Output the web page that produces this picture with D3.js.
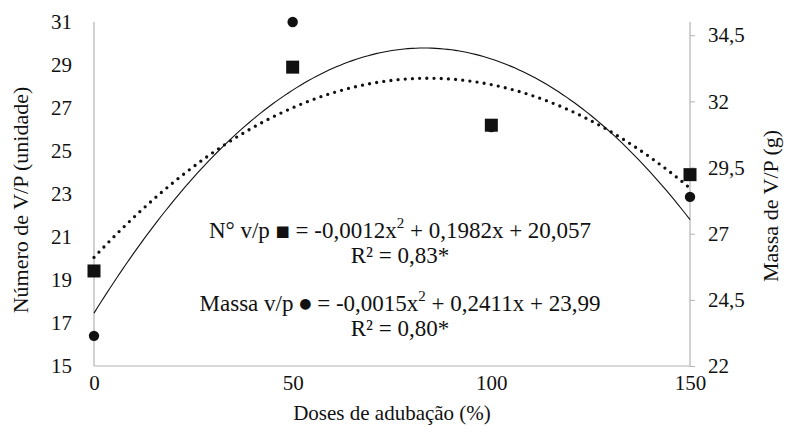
<!DOCTYPE html>
<html>
<head>
<meta charset="utf-8">
<script src="https://cdn.jsdelivr.net/npm/d3@7"></script>
<style>
  body { margin: 0; background: #fff; }
  text { font-family: "Liberation Serif", "Times New Roman", serif; fill: #111; }
</style>
</head>
<body>
<svg class="chart" width="785" height="439"></svg>
<script>
// values
var doses = [0, 50, 100, 150];
var numeroVP = [19.42, 28.9, 26.2, 23.9];     // squares, left axis
var massaVP = [23.14, 35.0, 31.03, 28.39];    // circles, right axis
var xTicks = [0, 50, 100, 150];
var leftTicks = [15, 17, 19, 21, 23, 25, 27, 29, 31];
var rightTicks = [22, 24.5, 27, 29.5, 32, 34.5];
var eqLines = [
  ["N° v/p ", "■", " = -0,0012x", "2", " + 0,1982x + 20,057"],
  ["R² = 0,83*"],
  ["Massa v/p  ", "●", " = -0,0015x", "2", " + 0,2411x + 23,99"],
  ["R² = 0,80*"]
];

var svg = d3.select(".chart"),
  margin = {top: 22, right: 95, bottom: 73, left: 94},
  width = +svg.attr("width") - margin.left - margin.right,
  height = +svg.attr("height") - margin.top - margin.bottom,
  main = svg.append("g").attr("transform", "translate(" + margin.left + "," + margin.top + ")");

var x = d3.scaleLinear().domain([0, 150]).range([0, width]);
var yLeft = d3.scaleLinear().domain([15, 31]).range([height, 0]);
var yRight = d3.scaleLinear().domain([22, 35]).range([height, 0]);

var comma = function(d) { return String(d).replace(".", ","); };

// axes
var xaxis = d3.axisBottom(x).tickValues(xTicks).tickSize(0).tickPadding(9);
var yaxis = d3.axisLeft(yLeft).tickValues(leftTicks).tickSize(0).tickPadding(22);
var yraxis = d3.axisRight(yRight).tickValues(rightTicks).tickSize(5).tickPadding(13).tickFormat(comma);

main.append("g").attr("class", "xaxis").attr("transform", "translate(0," + height + ")").call(xaxis);
main.append("g").attr("class", "yaxis").call(yaxis);
main.append("g").attr("class", "yraxis").attr("transform", "translate(" + width + ",0)").call(yraxis);

main.selectAll("g.xaxis, g.yaxis, g.yraxis").attr("font-family", null).attr("font-size", null);
main.selectAll(".domain").attr("stroke", "#b3b3b3").attr("stroke-width", 1.2);
main.selectAll(".tick line").attr("stroke", "#b3b3b3");
main.selectAll(".tick text").style("font-size", "21px");
main.selectAll(".xaxis .domain").attr("d", "M0,0H" + width);
main.selectAll(".yaxis .domain").attr("d", "M0," + height + "V0");
main.selectAll(".yraxis .domain").attr("d", "M0," + height + "V0");

// least squares quadratic (Excel-style trendline) fitted to the plotted points
function polyfit2(xs, ys) {
  var s = [0, 0, 0, 0, 0], t = [0, 0, 0];
  xs.forEach(function(xv, i) {
    for (var k = 0; k < 5; k++) s[k] += Math.pow(xv, k);
    for (var k = 0; k < 3; k++) t[k] += Math.pow(xv, k) * ys[i];
  });
  var m = [[s[0], s[1], s[2], t[0]], [s[1], s[2], s[3], t[1]], [s[2], s[3], s[4], t[2]]];
  for (var i = 0; i < 3; i++) {
    for (var j = i + 1; j < 3; j++) {
      var f = m[j][i] / m[i][i];
      for (var k = i; k < 4; k++) m[j][k] -= f * m[i][k];
    }
  }
  var c = [0, 0, 0];
  for (var i = 2; i >= 0; i--) {
    var v = m[i][3];
    for (var k = i + 1; k < 3; k++) v -= m[i][k] * c[k];
    c[i] = v / m[i][i];
  }
  return function(xv) { return c[0] + c[1] * xv + c[2] * xv * xv; };
}

var fitN = polyfit2(doses, numeroVP);
var fitM = polyfit2(doses, massaVP);
var xs = d3.range(0, 150.5, 1);

var numLine = d3.line()
  .x(function(d) { return x(d); })
  .y(function(d) { return yLeft(fitN(d)); });
var massLine = d3.line()
  .x(function(d) { return x(d); })
  .y(function(d) { return yRight(fitM(d)); });

main.append("path")
  .datum(xs)
  .attr("fill", "none")
  .attr("stroke", "#111")
  .attr("stroke-width", 1.1)
  .attr("d", massLine);

main.append("path")
  .datum(xs)
  .attr("fill", "none")
  .attr("stroke", "#111")
  .attr("stroke-width", 3.3)
  .attr("stroke-linecap", "round")
  .attr("stroke-dasharray", "0 7.2")
  .attr("d", numLine);

// points
main.selectAll("circle.massa")
  .data(doses)
  .enter().append("circle")
  .attr("class", "massa")
  .attr("cx", function(d) { return x(d); })
  .attr("cy", function(d, i) { return yRight(massaVP[i]); })
  .attr("r", 5.2)
  .attr("fill", "#111");

var sq = 13;
main.selectAll("rect.numero")
  .data(doses)
  .enter().append("rect")
  .attr("class", "numero")
  .attr("x", function(d) { return x(d) - sq / 2; })
  .attr("y", function(d, i) { return yLeft(numeroVP[i]) - sq / 2; })
  .attr("width", sq)
  .attr("height", sq)
  .attr("fill", "#111");

// equations
var eqY = [233, 258, 306, 331];
eqLines.forEach(function(parts, i) {
  var t = main.append("text")
    .attr("x", 400 - margin.left)
    .attr("y", eqY[i] - margin.top)
    .attr("text-anchor", "middle")
    .attr("dominant-baseline", "middle")
    .style("font-size", "23px");
  parts.forEach(function(p) {
    var ts = t.append("tspan").text(p);
    if (p === "■") ts.attr("baseline-shift", "2px").style("font-size", "15px").style("font-family", "DejaVu Sans");
    if (p === "●") ts.attr("baseline-shift", "2px").style("font-size", "14px").style("font-family", "DejaVu Sans");
    if (p === "2") ts.attr("baseline-shift", "super").style("font-size", "15px");
  });
});

// axis titles
svg.append("text")
  .attr("x", 392)
  .attr("y", 420)
  .attr("text-anchor", "middle")
  .style("font-size", "21px")
  .text("Doses de adubação (%)");

svg.append("text")
  .attr("transform", "translate(28,200) rotate(-90)")
  .attr("text-anchor", "middle")
  .style("font-size", "22px")
  .text("Número de V/P (unidade)");

svg.append("text")
  .attr("transform", "translate(778,206) rotate(-90)")
  .attr("text-anchor", "middle")
  .style("font-size", "22px")
  .text("Massa de V/P (g)");
</script>
</body>
</html>
